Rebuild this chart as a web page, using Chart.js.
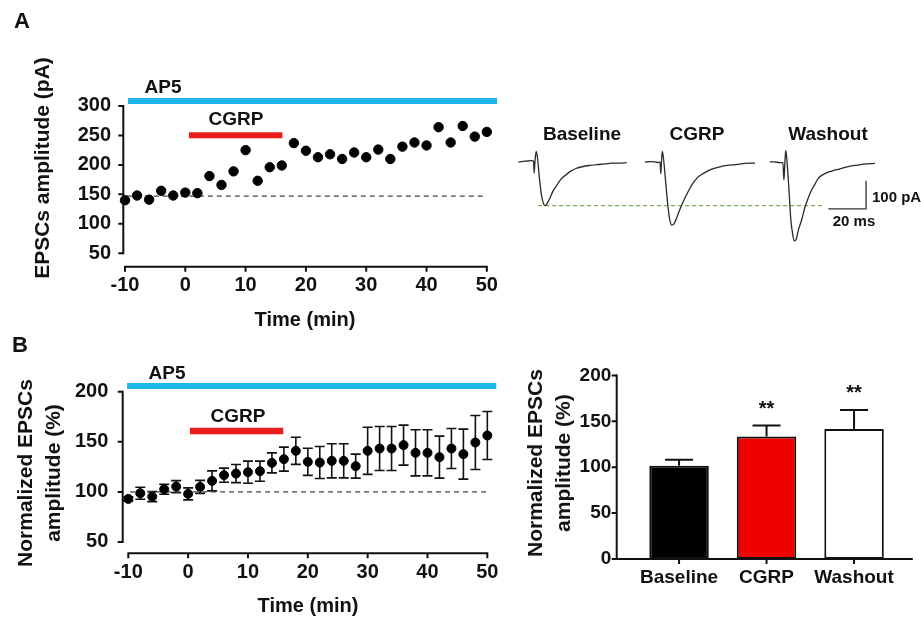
<!DOCTYPE html>
<html>
<head>
<meta charset="utf-8">
<script src="https://cdn.jsdelivr.net/npm/chart.js@4.4.0/dist/chart.umd.min.js"></script>
<style>
  body { margin: 0; background: #fff; width: 921px; height: 618px; position: relative; overflow: hidden;
         font-family: "Liberation Sans", Arial, sans-serif; font-weight: bold; color: #111; }
  canvas { position: absolute; }
  .lbl { position: absolute; transform: translate(-50%, -50%); white-space: nowrap; }
  .rot { position: absolute; transform: translate(-50%, -50%) rotate(-90deg); white-space: nowrap; text-align: center; }
</style>
</head>
<body>
<canvas id="chartA" width="510" height="330" style="left:0;top:0"></canvas>
<canvas id="chartB" width="510" height="278" style="left:0;top:340px"></canvas>
<canvas id="chartBar" width="421" height="278" style="left:500px;top:340px"></canvas>
<canvas id="chartTraces" width="400" height="140" style="left:510px;top:120px"></canvas>

<div class="lbl" style="left:22px;top:21px;font-size:22px">A</div>
<div class="lbl" style="left:163px;top:87px;font-size:19px">AP5</div>
<div class="lbl" style="left:236px;top:119px;font-size:19px">CGRP</div>
<div class="lbl" style="left:305px;top:319px;font-size:20px">Time (min)</div>
<div class="rot" style="left:42px;top:168px;font-size:21px">EPSCs amplitude (pA)</div>

<div class="lbl" style="left:582px;top:134px;font-size:19px">Baseline</div>
<div class="lbl" style="left:697px;top:134px;font-size:19px">CGRP</div>
<div class="lbl" style="left:828px;top:134px;font-size:19px">Washout</div>
<div class="lbl" style="left:872px;top:196px;font-size:15px;transform:translate(0,-50%)">100 pA</div>
<div class="lbl" style="left:854px;top:220px;font-size:15px">20 ms</div>

<div class="lbl" style="left:20px;top:345px;font-size:22px">B</div>
<div class="lbl" style="left:167px;top:373px;font-size:19px">AP5</div>
<div class="lbl" style="left:238px;top:416px;font-size:19px">CGRP</div>
<div class="lbl" style="left:308px;top:605px;font-size:20px">Time (min)</div>
<div class="rot" style="left:39px;top:473px;font-size:21px;line-height:28px">Normalized EPSCs<br>amplitude (%)</div>
<div class="rot" style="left:549px;top:463px;font-size:21px;line-height:28px">Normalized EPSCs<br>amplitude (%)</div>

<script>
// ---- data ----
const minutes = [-10, -8, -6, -4, -2, 0, 2, 4, 6, 8, 10, 12, 14, 16, 18, 20, 22, 24, 26, 28, 30, 32, 34, 36, 38, 40, 42, 44, 46, 48, 50];
const amplitudeA = [140, 148, 141, 156, 148, 153, 152, 181, 166, 189, 225, 173, 196, 199, 237, 224, 213, 218, 210, 221, 213, 226, 210, 231, 238, 233, 264, 238, 266, 248, 256];
const baselineAmpA = 147;
const normB = [93, 98.7, 95.3, 102.7, 105.3, 98, 105, 111, 116.7, 118.3, 119.7, 120.7, 129, 132.7, 141, 130, 129.3, 131, 131, 125.7, 141, 143.3, 143.3, 146.7, 139, 139, 134.7, 143.3, 137.7, 149.3, 156.3];
const semB = [2, 6, 5, 5, 6, 6, 6.5, 10, 7, 9, 11, 10, 10, 12, 13.5, 13.5, 16, 17, 17, 12, 23.5, 22, 22, 20, 23, 23, 21, 20, 25, 27, 24];
const baselineNormB = 100;

const timeTicks = [-10, 0, 10, 20, 30, 40, 50];
const ampTicks = [50, 100, 150, 200, 250, 300];
const normTicks = [50, 100, 150, 200];
const barTicks = [0, 50, 100, 150, 200];

// drug application periods (min) and the level they are drawn at
const ap5SpanA = [-9.5, 51.7], ap5LevelA = 308.5;
const cgrpSpanA = [0.6, 16.1], cgrpLevelA = 250.5;
const dashSpanA = [-9.7, 50];
const ap5SpanB = [-10.2, 51.5], ap5LevelB = 205.7;
const cgrpSpanB = [0.3, 15.9], cgrpLevelB = 160.7;
const dashSpanB = [-9.7, 50];

const groups = ['Baseline', 'CGRP', 'Washout'];
const groupMean = [101.7, 133.4, 141.7];
const groupSem = [6.3, 12.1, 20.7];
const groupSig = ['', '**', '**'];
const groupColors = ['#000000', '#f20000', '#ffffff'];

// example sweeps: [ms, pA]
const traceBaseline = [[0, -1], [2.5, 1], [5.1, 2.5], [7.1, 4], [8.1, 2], [8.4, -40], [8.9, 6], [9.5, 36], [10.2, 13], [11.2, -58], [12.3, -118], [13.4, -149], [14.2, -155], [15.2, -149], [16.8, -128], [18.4, -104], [20.4, -84], [22.1, -66], [24.8, -49], [27.4, -35], [30.6, -24], [34.3, -17], [38, -13], [41.8, -10], [46, -8], [49.7, -5], [54, -5], [57.5, -3]];
const traceCgrp = [[0, -1], [2.7, 0], [5.3, -1], [7.1, -3], [8, -1], [8.4, -43], [8.8, 6], [9.2, 36], [9.8, 13], [10.9, -65], [12, -146], [13, -199], [14.2, -224], [15.4, -220], [17, -195], [18.6, -167], [20.7, -135], [22.8, -107], [24.9, -82], [27.6, -58], [30.8, -42], [34.5, -29], [38.7, -20], [43.5, -13], [48.3, -10], [53, -6], [58.4, -5]];
const traceWashout = [[0, 0], [2.7, -1], [5.3, -3], [6.9, -3], [7.4, -65], [8, 6], [8.4, 40], [9, 6], [10.1, -100], [11.1, -206], [12.2, -262], [13, -280], [14, -273], [15.1, -241], [16.8, -206], [18.6, -160], [20.5, -125], [22.1, -100], [23.9, -79], [25.6, -59], [29.2, -42], [32.9, -33], [36.2, -27], [39.8, -20], [43.3, -15], [46.7, -12], [50.4, -8], [55.7, -6]];
const traceStart = [0, 67.2, 133.5];          // sweeps laid side by side (ms)
const peakLineSpan = [10.5, 161];
const scaleBarMs = 20, scaleBarPA = 100, scaleBarCorner = [184.5, -167];

// ---- helpers ----
const seg = (span, level) => [{ x: span[0], y: level }, { x: span[1], y: level }];
const fixTicks = list => scale => { scale.ticks = list.map(v => ({ value: v })); };

function prismAxes(opts) {
  return {
    id: 'prismAxes',
    afterDraw(chart) {
      const { ctx, chartArea } = chart;
      const x = chart.scales.x, y = chart.scales.y;
      const yPix = y.ticks.map(t => y.getPixelForValue(t.value));
      const yLineX = opts.yLineX(chart);
      const [x0, x1] = opts.xSpan(chart);
      const xLineY = chartArea.bottom;
      ctx.save();
      ctx.strokeStyle = '#111';
      ctx.lineWidth = 2;
      // y axis
      ctx.beginPath();
      ctx.moveTo(yLineX, Math.min(...yPix) - 1);
      ctx.lineTo(yLineX, Math.max(...yPix) + 1);
      ctx.stroke();
      ctx.beginPath();
      yPix.forEach(p => { ctx.moveTo(yLineX, p); ctx.lineTo(yLineX - 5, p); });
      ctx.stroke();
      // x axis
      ctx.beginPath();
      ctx.moveTo(x0 - 1, xLineY);
      ctx.lineTo(x1 + 1, xLineY);
      opts.xTicks(chart).forEach(p => { ctx.moveTo(p, xLineY); ctx.lineTo(p, xLineY + 5); });
      ctx.stroke();
      ctx.restore();
    }
  };
}

const timeAxes = gap => prismAxes({
  yLineX: c => c.scales.x.getPixelForValue(timeTicks[0]) - gap,
  xSpan: c => [c.scales.x.getPixelForValue(timeTicks[0]), c.scales.x.getPixelForValue(timeTicks[timeTicks.length - 1])],
  xTicks: c => timeTicks.map(v => c.scales.x.getPixelForValue(v))
});

function lineSet(data, color, width, dash) {
  return { data, showLine: true, borderColor: color, borderWidth: width, borderDash: dash || [],
           borderCapStyle: 'butt', pointRadius: 0, clip: false };
}

Chart.defaults.font.family = '"Liberation Sans", Arial, sans-serif';
Chart.defaults.color = '#111';

function timeScales(yMin, yMax, yTicks, yW, xH, yPad) {
  return {
    x: { type: 'linear', min: -10, max: 52, afterBuildTicks: fixTicks(timeTicks),
         afterFit: s => { s.height = xH; },
         grid: { display: false, drawTicks: false }, border: { display: false },
         ticks: { padding: 7, font: { size: 20, weight: 'bold' } } },
    y: { min: yMin, max: yMax, afterBuildTicks: fixTicks(yTicks),
         afterFit: s => { s.width = yW; },
         grid: { display: false, drawTicks: false }, border: { display: false },
         ticks: { padding: yPad, font: { size: 20, weight: 'bold' } } }
  };
}

// ---- panel A: raw amplitudes ----
new Chart(document.getElementById('chartA'), {
  type: 'scatter',
  data: {
    datasets: [
      { data: minutes.map((m, i) => ({ x: m, y: amplitudeA[i] })), backgroundColor: '#000', borderColor: '#000',
        pointRadius: 4.7, clip: false },
      lineSet(seg(ap5SpanA, ap5LevelA), '#1db4ea', 6),
      lineSet(seg(cgrpSpanA, cgrpLevelA), '#ea1c1c', 6),
      lineSet(seg(dashSpanA, baselineAmpA), '#444', 1.2, [5, 4])
    ]
  },
  options: {
    responsive: false, animation: false,
    layout: { autoPadding: false, padding: { top: 94.2, right: 11.1, left: 0, bottom: 0 } },
    plugins: { legend: { display: false }, tooltip: { enabled: false } },
    scales: timeScales(27, 320, ampTicks, 125, 63.2, 14)
  },
  plugins: [timeAxes(1.7)]
});

// ---- panel B: normalised amplitudes with SEM ----
const errorBarsB = {
  id: 'errorBarsB',
  beforeDatasetsDraw(chart) {
    const { ctx } = chart, x = chart.scales.x, y = chart.scales.y;
    ctx.save();
    ctx.strokeStyle = '#111';
    ctx.lineWidth = 1.6;
    minutes.forEach((m, i) => {
      const px = x.getPixelForValue(m);
      const hi = y.getPixelForValue(normB[i] + semB[i]);
      const lo = y.getPixelForValue(normB[i] - semB[i]);
      ctx.beginPath();
      ctx.moveTo(px, hi); ctx.lineTo(px, lo);
      ctx.moveTo(px - 5, hi); ctx.lineTo(px + 5, hi);
      ctx.moveTo(px - 5, lo); ctx.lineTo(px + 5, lo);
      ctx.stroke();
    });
    ctx.restore();
  }
};

new Chart(document.getElementById('chartB'), {
  type: 'scatter',
  data: {
    datasets: [
      { data: minutes.map((m, i) => ({ x: m, y: normB[i] })), backgroundColor: '#000', borderColor: '#000',
        pointRadius: 4.5, clip: false },
      lineSet(seg(ap5SpanB, ap5LevelB), '#1db4ea', 6),
      lineSet(seg(cgrpSpanB, cgrpLevelB), '#ea1c1c', 6.5),
      lineSet(seg(dashSpanB, baselineNormB), '#444', 1.2, [5, 4])
    ]
  },
  options: {
    responsive: false, animation: false,
    layout: { autoPadding: false, padding: { top: 36.7, right: 10.7, left: 0, bottom: 0 } },
    plugins: { legend: { display: false }, tooltip: { enabled: false } },
    scales: timeScales(38.7, 215, normTicks, 128.3, 64.7, 20)
  },
  plugins: [timeAxes(5.6), errorBarsB]
});

// ---- panel B: summary bars ----
const barExtras = {
  id: 'barExtras',
  afterDatasetsDraw(chart) {
    const { ctx } = chart, x = chart.scales.x, y = chart.scales.y;
    ctx.save();
    ctx.strokeStyle = '#111';
    ctx.lineWidth = 2;
    ctx.fillStyle = '#111';
    ctx.font = 'bold 20px "Liberation Sans", Arial, sans-serif';
    ctx.textAlign = 'center';
    ctx.textBaseline = 'middle';
    groups.forEach((g, i) => {
      const px = x.getPixelForValue(i);
      const top = y.getPixelForValue(groupMean[i]);
      const hi = y.getPixelForValue(groupMean[i] + groupSem[i]);
      ctx.beginPath();
      ctx.moveTo(px, top); ctx.lineTo(px, hi);
      ctx.moveTo(px - 14, hi); ctx.lineTo(px + 14, hi);
      ctx.stroke();
      if (groupSig[i]) ctx.fillText(groupSig[i], px, hi - 16);
    });
    ctx.restore();
  }
};

new Chart(document.getElementById('chartBar'), {
  type: 'bar',
  data: {
    labels: groups,
    datasets: [{ data: groupMean, backgroundColor: groupColors, borderColor: '#111', borderWidth: 2,
                 borderSkipped: false, barPercentage: 0.68, categoryPercentage: 1 }]
  },
  options: {
    responsive: false, animation: false,
    layout: { autoPadding: false, padding: { top: 25, right: 23.2, left: 0, bottom: 0 } },
    plugins: { legend: { display: false }, tooltip: { enabled: false } },
    scales: {
      x: { afterFit: s => { s.height = 59; },
           grid: { display: false, drawTicks: false }, border: { display: false },
           ticks: { padding: 7, font: { size: 19, weight: 'bold' } } },
      y: { min: 0, max: 200, afterBuildTicks: fixTicks(barTicks),
           afterFit: s => { s.width = 135.3; },
           grid: { display: false, drawTicks: false }, border: { display: false },
           ticks: { padding: 24, font: { size: 19, weight: 'bold' } } }
    }
  },
  plugins: [prismAxes({
    yLineX: c => c.chartArea.left - 18.6,
    xSpan: c => [c.chartArea.left - 18.6, c.chartArea.right + 14],
    xTicks: c => groups.map((g, i) => c.scales.x.getPixelForValue(i))
  }), barExtras]
});

// ---- panel A: example sweeps ----
const sweeps = [traceBaseline, traceCgrp, traceWashout];
const peakBaseline = Math.min(...traceBaseline.map(p => p[1]));
new Chart(document.getElementById('chartTraces'), {
  type: 'scatter',
  data: {
    datasets: [
      ...sweeps.map((tr, k) => ({
        data: tr.map(([t, v]) => ({ x: t + traceStart[k], y: v })), showLine: true,
        borderColor: '#2a2a2a', borderWidth: 1.3, pointRadius: 0, cubicInterpolationMode: 'monotone', clip: false
      })),
      lineSet(seg(peakLineSpan, peakBaseline), '#7dab52', 1.3, [4, 3]),
      lineSet([{ x: scaleBarCorner[0] - scaleBarMs, y: scaleBarCorner[1] }, { x: scaleBarCorner[0], y: scaleBarCorner[1] },
               { x: scaleBarCorner[0], y: scaleBarCorner[1] + scaleBarPA }], '#333', 1.3)
    ]
  },
  options: {
    responsive: false, animation: false,
    layout: { autoPadding: false, padding: 0 },
    plugins: { legend: { display: false }, tooltip: { enabled: false } },
    scales: {
      x: { type: 'linear', display: false, min: -4.4, max: 207.8 },
      y: { display: false, min: -347.3, max: 147.3 }
    }
  }
});
</script>
</body>
</html>
